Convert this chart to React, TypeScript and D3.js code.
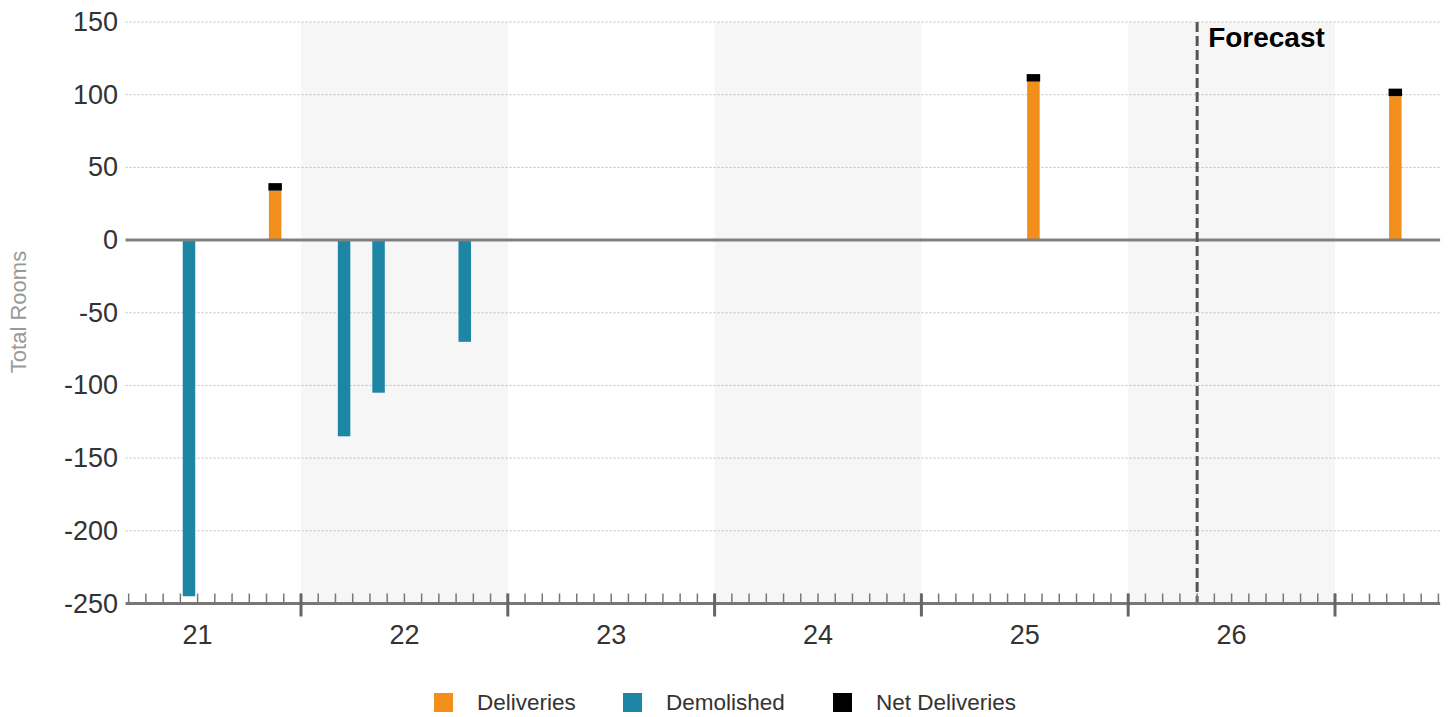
import React from "react";
import * as d3 from "d3";

// ---- data (month index: 0 = Jan 2021) ----
const yearLabels = ["21", "22", "23", "24", "25", "26"];
const shadedYears = [1, 3, 5]; // index into yearLabels
const deliveries = [
  { m: 10, v: 34 },
  { m: 54, v: 109 },
  { m: 75, v: 99 },
];
const demolished = [
  { m: 5, v: -245 },
  { m: 14, v: -135 },
  { m: 16, v: -105 },
  { m: 21, v: -70 },
];
const netDeliveries = [
  { m: 10, v: 34 },
  { m: 54, v: 109 },
  { m: 75, v: 99 },
];
const forecastMonth = 64;
const yTicks = [150, 100, 50, 0, -50, -100, -150, -200, -250];
const monthDomain = [1.82, 78.1];
const legendItems = [
  { label: "Deliveries", color: "#f28e1c" },
  { label: "Demolished", color: "#1d86a5" },
  { label: "Net Deliveries", color: "#000000" },
];

const W = 1453;
const H = 717;
const FONT = "'Liberation Sans', Arial, sans-serif";

export default function App() {
  const x = d3.scaleLinear().domain([12, 72]).range([301, 1335]);
  const y = d3.scaleLinear().domain([-250, 150]).range([603.5, 22]);
  const x0 = x(monthDomain[0]);
  const x1 = x(monthDomain[1]);
  const barW = 12.5;
  const axisY = y(-250);

  const minorTicks = d3.range(Math.ceil(monthDomain[0]), Math.floor(monthDomain[1]) + 1);
  const majorTicks = minorTicks.filter((m) => m % 12 === 0);

  const legendX = [434, 623, 833];

  return (
    <svg
      width={W}
      height={H}
      style={{ position: "absolute", left: 0, top: 0, background: "#fff" }}
      fontFamily={FONT}
    >
      {/* shaded year bands */}
      {shadedYears.map((i) => (
        <rect
          key={"band" + i}
          x={x(i * 12)}
          y={y(150)}
          width={x((i + 1) * 12) - x(i * 12)}
          height={axisY - y(150)}
          fill="#f6f6f6"
        />
      ))}

      {/* gridlines */}
      {yTicks
        .filter((t) => t !== 0 && t !== -250)
        .map((t) => (
          <line
            key={"g" + t}
            x1={x0}
            x2={x1}
            y1={y(t)}
            y2={y(t)}
            stroke="#bdbdbd"
            strokeWidth={1}
            strokeDasharray="2,2"
          />
        ))}

      {/* y tick labels */}
      {yTicks.map((t) => (
        <text
          key={"yl" + t}
          x={118}
          y={y(t)}
          textAnchor="end"
          dominantBaseline="central"
          fontSize={27}
          fill="#333"
        >
          {t}
        </text>
      ))}

      {/* y axis title */}
      <text
        transform={`translate(26,312) rotate(-90)`}
        textAnchor="middle"
        fontSize={22}
        fill="#999"
      >
        Total Rooms
      </text>

      {/* demolished bars */}
      {demolished.map((d) => (
        <rect
          key={"dm" + d.m}
          x={x(d.m + 0.5) - barW / 2}
          y={y(0)}
          width={barW}
          height={y(d.v) - y(0)}
          fill="#1d86a5"
        />
      ))}

      {/* deliveries bars */}
      {deliveries.map((d) => (
        <rect
          key={"dl" + d.m}
          x={x(d.m + 0.5) - barW / 2}
          y={y(d.v)}
          width={barW}
          height={y(0) - y(d.v)}
          fill="#f28e1c"
        />
      ))}

      {/* net deliveries markers */}
      {netDeliveries.map((d) => (
        <rect
          key={"nd" + d.m}
          x={x(d.m + 0.5) - barW / 2 - 0.5}
          y={y(d.v) - 7.5}
          width={barW + 1}
          height={7.5}
          fill="#000"
        />
      ))}

      {/* zero line */}
      <line x1={x0} x2={x1} y1={y(0)} y2={y(0)} stroke="#7f7f7f" strokeWidth={3} />

      {/* forecast line */}
      <line
        x1={x(forecastMonth)}
        x2={x(forecastMonth)}
        y1={y(150)}
        y2={axisY}
        stroke="#555"
        strokeWidth={3}
        strokeDasharray="10,4"
      />
      <text x={x(forecastMonth) + 11} y={46.5} fontSize={28} fontWeight="bold" fill="#000">
        Forecast
      </text>

      {/* x axis */}
      <line x1={x0} x2={x1} y1={axisY} y2={axisY} stroke="#777" strokeWidth={3} />
      {minorTicks.map((m) => (
        <line
          key={"mt" + m}
          x1={x(m)}
          x2={x(m)}
          y1={axisY - 10}
          y2={axisY}
          stroke="#777"
          strokeWidth={1.5}
        />
      ))}
      {majorTicks.map((m) => (
        <line
          key={"Mt" + m}
          x1={x(m)}
          x2={x(m)}
          y1={axisY - 10}
          y2={axisY + 13}
          stroke="#666"
          strokeWidth={3}
        />
      ))}
      {yearLabels.map((l, i) => (
        <text
          key={"xl" + l}
          x={x(i * 12 + 6)}
          y={644}
          textAnchor="middle"
          fontSize={27}
          fill="#333"
        >
          {l}
        </text>
      ))}

      {/* legend */}
      {legendItems.map((it, i) => (
        <g key={"lg" + i}>
          <rect x={legendX[i]} y={693} width={19} height={19} fill={it.color} />
          <text x={legendX[i] + 43} y={709.5} fontSize={22.5} fill="#333">
            {it.label}
          </text>
        </g>
      ))}
    </svg>
  );
}
